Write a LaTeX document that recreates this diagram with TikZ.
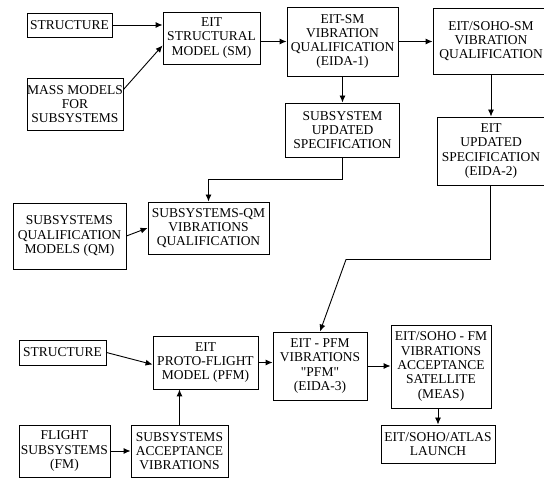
\documentclass[tikz,border=0pt]{standalone}
\usepackage{fontspec}
\setmainfont{Liberation Serif}
\newfontfamily\boxfont{Liberation Serif}
\usetikzlibrary{arrows.meta,calc}
\begin{document}
\begin{tikzpicture}[x=1pt,y=1pt,
  box/.style={draw,line width=0.9pt,inner sep=0pt,align=center,
    font=\boxfont\fontsize{13.5}{14.3}\selectfont},
  arr/.style={line width=0.9pt,-{Latex[length=7pt,width=6pt]}}]
\useasboundingbox (0,0) rectangle (544,478);
\clip (0,0) rectangle (544,478);
\fill[white] (0,0) rectangle (544,478);
\node[box,minimum width=85,minimum height=24] (s1) at (69.5,453) {STRUCTURE};
\node[box,minimum width=97,minimum height=52] (sm) at (211.5,440) {EIT\\STRUCTURAL\\MODEL (SM)};
\node[box,minimum width=96,minimum height=52] (mass) at (75,374) {MASS MODELS\\FOR\\SUBSYSTEMS};
\node[box,minimum width=111,minimum height=69] (eidaone) at (342.5,436.5) {EIT-SM\\VIBRATION\\QUALIFICATION\\(EIDA-1)};
\node[box,minimum width=116,minimum height=66] (sohosm) at (491,437) {EIT/SOHO-SM\\VIBRATION\\QUALIFICATION};
\node[box,minimum width=114,minimum height=54] (subupd) at (342.5,348) {SUBSYSTEM\\UPDATED\\SPECIFICATION};
\node[box,minimum width=107,minimum height=68] (eidatwo) at (491,327) {EIT\\UPDATED\\SPECIFICATION\\(EIDA-2)};
\node[box,minimum width=113,minimum height=66] (qm) at (69.5,242) {SUBSYSTEMS\\QUALIFICATION\\MODELS (QM)};
\node[box,minimum width=121,minimum height=52] (subqm) at (208.5,250) {SUBSYSTEMS-QM\\VIBRATIONS\\QUALIFICATION};
\node[box,minimum width=87,minimum height=25] (s2) at (62.5,125.5) {STRUCTURE};
\node[box,minimum width=105,minimum height=53] (pfm) at (205.5,115.5) {EIT\\PROTO-FLIGHT\\MODEL (PFM)};
\node[box,minimum width=91,minimum height=52] (flight) at (64.5,27) {FLIGHT\\SUBSYSTEMS\\(FM)};
\node[box,minimum width=97,minimum height=52] (acc) at (179.5,27) {SUBSYSTEMS\\ACCEPTANCE\\VIBRATIONS};
\node[box,minimum width=94,minimum height=68] (eidathree) at (320,112) {EIT - PFM\\VIBRATIONS\\\symbol{34}PFM\symbol{34}\\(EIDA-3)};
\node[box,minimum width=100,minimum height=83] (meas) at (441,111.5) {EIT/SOHO - FM\\VIBRATIONS\\ACCEPTANCE\\SATELLITE\\(MEAS)};
\node[box,minimum width=114,minimum height=38] (launch) at (438,34) {EIT/SOHO/ATLAS\\LAUNCH};
\coordinate (bendA) at (342.5,298.5);
\coordinate (bendB) at (490.5,218.5);
\coordinate (bendC) at (346,218.5);
\draw[arr] (s1.east) -- (sm.west |- s1.east);
\draw[arr] ($(mass.north east)+(0,-12)$) -- ($(sm.south west)+(0,19)$);
\draw[arr] (sm.east |- eidaone.west) -- (eidaone.west);
\draw[arr] (eidaone.east) -- (sohosm.west |- eidaone.east);
\draw[arr] (eidaone.south -| subupd.north) -- (subupd.north);
\draw[arr] (sohosm.south) -- (sohosm.south |- eidatwo.north);
\draw[arr] (subupd.south) -- (bendA) -| (subqm.north);
\draw[arr] (qm.east) -- (subqm.west);
\draw[arr] (eidatwo.south -| bendB) -- (bendB) -- (bendC) -- (eidathree.north);
\draw[arr] (s2.east) -- ($(pfm.west)+(0,-2)$);
\draw[arr] (acc.north) -- (acc.north |- pfm.south);
\draw[arr] (flight.east) -- (acc.west);
\draw[arr] (pfm.east) -- (pfm.east -| eidathree.west);
\draw[arr] (eidathree.east) -- (eidathree.east -| meas.west);
\draw[arr] (launch.north |- meas.south) -- (launch.north);
\end{tikzpicture}
\end{document}
